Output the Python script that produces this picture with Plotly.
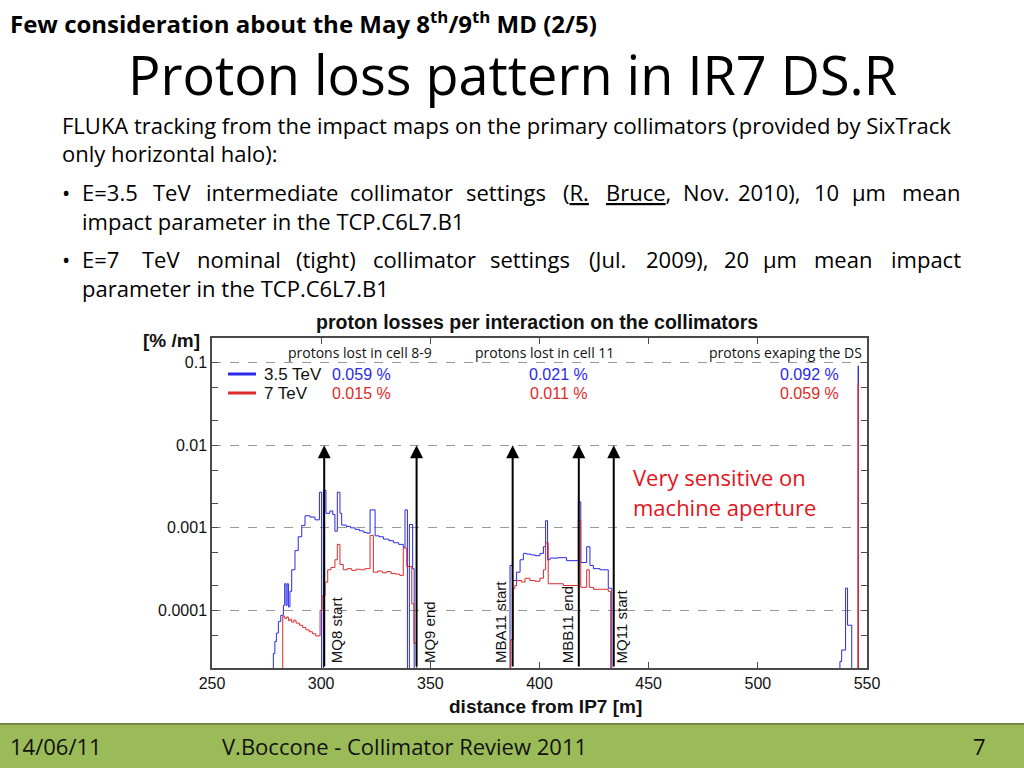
import math
import plotly.graph_objects as go

# ---------------- data ----------------
# step histogram: x = start of each bin level, y = level (1e-7 = empty bin)
x_35 = [277.5, 278.1, 278.8, 279.5, 280.4, 281.5, 282.7, 283.3, 283.9, 284.4, 285.0, 285.7,
        286.5, 288.0, 289.5, 291.1, 292.6, 294.9, 297.2, 299.2, 300.2, 301.0, 302.2, 304.0,
        305.3, 306.3, 307.4, 308.6, 309.4, 311.5, 313.5, 315.5, 317.5, 319.5, 321.0, 322.4,
        324.7, 326.5, 328.5, 331.0, 333.1, 335.5, 337.6, 338.4, 339.5, 340.4, 341.9, 342.6,
        386.5, 387.6, 389.5, 391.1, 392.6, 394.1, 396.0, 397.9, 400.2, 401.8, 402.8, 403.7,
        404.8, 408.5, 412.4, 417.8, 418.9, 421.6, 423.1, 424.7, 427.7, 431.5, 433.1,
        537.6, 538.4, 540.2, 541.1, 543.0,
        545.95, 546.05, 550.0]
y_35 = [1e-7, 3.0e-5, 4.2e-5, 5.3e-5, 7.3e-5, 8.7e-5, 1.15e-4, 2.1e-4, 1.15e-4, 2.1e-4, 1.1e-4, 1.7e-4,
        3.1e-4, 5.3e-4, 7.8e-4, 1.07e-3, 1.4e-3, 1.35e-3, 1.25e-3, 2.7e-3, 1e-7, 2.85e-3, 1.5e-3, 1.6e-3,
        1.45e-3, 9.1e-4, 2.7e-3, 1.5e-3, 1.08e-3, 1.04e-3, 1.0e-3, 9.6e-4, 9.2e-4, 8.8e-4, 8.6e-4, 1.65e-3,
        8.0e-4, 7.8e-4, 7.3e-4, 7.0e-4, 6.6e-4, 6.3e-4, 5.8e-4, 1.65e-3, 1e-7, 1.1e-3, 3.2e-4, 1e-7,
        3.5e-4, 2.3e-4, 2.9e-4, 4.1e-4, 4.9e-4, 4.8e-4, 4.7e-4, 4.6e-4, 4.9e-4, 5.9e-4, 1.22e-3, 4.1e-4,
        4.3e-4, 4.35e-4, 4.0e-4, 2.06e-3, 3.8e-4, 5.9e-4, 3.5e-4, 3.2e-4, 3.1e-4, 1.85e-4, 1e-7,
        2.4e-5, 3.3e-5, 1.86e-4, 6.6e-5, 1e-7,
        0.092, 1e-7, 1e-7]

x_7 = [281.8, 282.4, 283.3, 284.2, 285.0, 285.7, 286.5, 287.5, 288.5, 290.0, 291.5, 293.0, 294.5,
       296.0, 297.5, 299.5, 300.4, 301.8, 303.0, 304.5, 306.3, 307.4, 308.6, 310.1, 312.0, 314.0,
       316.0, 318.0, 320.0, 322.4, 323.9, 326.0, 328.0, 330.0, 332.0, 334.0, 336.0, 337.6, 339.2,
       341.5, 342.5, 343.7,
       386.8, 388.0, 388.7, 389.5, 391.8, 393.4, 395.6, 397.9, 400.2, 401.8, 402.8, 404.0, 410.9,
       417.8, 418.9, 421.6, 422.8, 424.7, 431.5, 432.6,
       545.95, 546.05, 550.0]
y_7 = [1e-7, 8.5e-5, 8.0e-5, 8.3e-5, 7.5e-5, 7.8e-5, 7.2e-5, 7.6e-5, 7.0e-5, 6.6e-5, 6.2e-5, 5.8e-5, 5.5e-5,
       5.2e-5, 4.9e-5, 1.0e-4, 1.5e-4, 2.2e-4, 3.1e-4, 3.3e-4, 4.1e-4, 6.3e-4, 3.6e-4, 3.1e-4, 3.2e-4, 3.05e-4,
       3.15e-4, 3.1e-4, 3.2e-4, 8.1e-4, 2.9e-4, 3.0e-4, 2.85e-4, 2.95e-4, 2.8e-4, 2.75e-4, 2.65e-4, 5.7e-4, 3.4e-4,
       1.2e-4, 4.0e-5, 1e-7,
       4.4e-5, 1.85e-4, 2.0e-4, 2.3e-4, 2.2e-4, 2.45e-4, 2.3e-4, 2.25e-4, 2.45e-4, 3.1e-4, 6.6e-4, 2.1e-4, 2.0e-4,
       1.23e-3, 1.9e-4, 3.1e-4, 1.9e-4, 1.8e-4, 1.7e-4, 1e-7,
       0.056, 1e-7, 1e-7]

series_names = ["3.5 TeV", "7 TeV"]
marker_pos = [301.4, 343.7, 387.7, 418.0, 434.0]
marker_labels = ["MQ8 start", "MQ9 end", "MBA11 start", "MBB11 end", "MQ11 start"]
marker_top = 0.01

region_centers = [317.8, 402.5]
region_titles = ["protons lost in cell 8-9", "protons lost in cell 11"]
ds_title = "protons exaping the DS"
value_pos = [318.6, 408.8, 523.6]
values_35 = ["0.059 %", "0.021 %", "0.092 %"]
values_7 = ["0.015 %", "0.011 %", "0.059 %"]

x_ticks = [250, 300, 350, 400, 450, 500, 550]
y_ticks = [1e-4, 1e-3, 1e-2, 1e-1]
y_ticktext = ["0.0001", "0.001", "0.01", "0.1"]
y_minor = [2e-5, 5e-5, 2e-4, 5e-4, 2e-3, 5e-3, 2e-2, 5e-2, 2e-1]

# ---------------- style ----------------
BLUE = "#2929E6"
RED = "#DD2A2A"
AX = "#4a4a4a"
CF = "Liberation Sans, Arial, sans-serif"
SF = "Open Sans, Lato, sans-serif"

W, H = 1024, 768
L, R, T, B = 212, 157, 338, 100
PW, PH = W - L - R, H - T - B


def px(x):
    return (x - L) / PW


def py(y):
    return (H - B - y) / PH


fig = go.Figure()
fig.add_trace(go.Scatter(x=x_35, y=y_35, mode="lines", name=series_names[0],
                         line=dict(color=BLUE, width=1, shape="hv"),
                         showlegend=False, hoverinfo="skip"))
fig.add_trace(go.Scatter(x=x_7, y=y_7, mode="lines", name=series_names[1],
                         line=dict(color=RED, width=1, shape="hv"),
                         showlegend=False, hoverinfo="skip"))

ann = []
shapes = []
ymin_log = math.log10(2e-5)
for xp, lab, off in zip(marker_pos, marker_labels, [12.5, 12.5, -12.7, -11, 7.7]):
    ann.append(dict(x=xp, y=math.log10(marker_top), xref="x", yref="y",
                    ax=xp, ay=ymin_log, axref="x", ayref="y", text="",
                    showarrow=True, arrowhead=2, arrowsize=1.3, arrowwidth=2,
                    arrowcolor="black", standoff=0, startstandoff=0))
    ann.append(dict(x=xp, y=0, xref="x", yref="paper", text=lab, textangle=-90,
                    xanchor="center", yanchor="bottom", xshift=off, yshift=3,
                    showarrow=False, font=dict(family=CF, size=15, color="#111")))

for xc, t in zip(region_centers, region_titles):
    ann.append(dict(x=xc, y=py(352), xref="x", yref="paper", text=t, showarrow=False,
                    xanchor="center", yanchor="middle", font=dict(family=SF, size=14, color="#111")))
ann.append(dict(x=px(864), y=py(352), xref="paper", yref="paper", text=ds_title, showarrow=False,
                xanchor="right", yanchor="middle", font=dict(family=SF, size=14, color="#111")))
for xv, v1, v2 in zip(value_pos, values_35, values_7):
    ann.append(dict(x=xv, y=py(374), xref="x", yref="paper", text=v1, showarrow=False,
                    xanchor="center", yanchor="middle", font=dict(family=CF, size=16, color=BLUE)))
    ann.append(dict(x=xv, y=py(393), xref="x", yref="paper", text=v2, showarrow=False,
                    xanchor="center", yanchor="middle", font=dict(family=CF, size=16, color=RED)))

# manual legend
for nm, col, yy in zip(series_names, [BLUE, RED], [374, 393]):
    shapes.append(dict(type="line", xref="paper", yref="paper", x0=px(228), x1=px(256),
                       y0=py(yy), y1=py(yy), line=dict(color=col, width=3)))
    ann.append(dict(x=px(262), y=py(yy), xref="paper", yref="paper", text=nm, showarrow=False,
                    xanchor="left", yanchor="middle", font=dict(family=CF, size=17, color="#111")))

# chart titles
ann.append(dict(x=px(537), y=py(322), xref="paper", yref="paper", showarrow=False,
                text="<b>proton losses per interaction on the collimators</b>",
                xanchor="center", yanchor="middle", font=dict(family=CF, size=19.5, color="#111")))
ann.append(dict(x=px(171), y=py(340), xref="paper", yref="paper", showarrow=False,
                text="<b>[% /m]</b>", xanchor="center", yanchor="middle",
                font=dict(family=CF, size=19, color="#111")))
ann.append(dict(x=px(545), y=py(706), xref="paper", yref="paper", showarrow=False,
                text="<b>distance from IP7 [m]</b>", xanchor="center", yanchor="middle",
                font=dict(family=CF, size=19, color="#111")))

# red comment
for yy, t in [(477, "Very sensitive on"), (507, "machine aperture")]:
    ann.append(dict(x=px(631), y=py(yy), xref="paper", yref="paper", text=t, showarrow=False,
                    xanchor="left", yanchor="middle", font=dict(family=SF, size=22, color="#E3141E")))

# slide texts
ann.append(dict(x=px(8), y=py(22), xref="paper", yref="paper", showarrow=False,
                text="<b>Few consideration about the May 8<sup>th</sup>/9<sup>th</sup> MD (2/5)</b>",
                xanchor="left", yanchor="middle", font=dict(family=SF, size=24, color="black")))
ann.append(dict(x=px(512), y=py(74), xref="paper", yref="paper", showarrow=False,
                text="Proton loss pattern in IR7 DS.R", xanchor="center", yanchor="middle",
                font=dict(family=SF, size=54, color="black")))

BS = 22
body = [(60, 125, "FLUKA tracking from the impact maps on the primary collimators (provided by SixTrack"),
        (60, 153, "only horizontal halo):"),
        (80, 221, "impact parameter in the TCP.C6L7.B1"),
        (80, 288, "parameter in the TCP.C6L7.B1")]
for xx, yy, t in body:
    ann.append(dict(x=px(xx), y=py(yy), xref="paper", yref="paper", text=t, showarrow=False,
                    xanchor="left", yanchor="middle", font=dict(family=SF, size=BS, color="black")))

# justified lines: word start positions (page px)
line3 = [(80, "E=3.5"), (151, "TeV"), (204, "intermediate"), (348, "collimator"), (464, "settings"),
         (561, "(<u>R.</u>"), (604, "<u>Bruce</u>,"), (681, "Nov."), (736, "2010),"), (812, "10"),
         (850, "µm"), (900, "mean")]
line5 = [(80, "E=7"), (140, "TeV"), (195, "nominal"), (294, "(tight)"), (371, "collimator"),
         (488, "settings"), (587, "(Jul."), (644, "2009),"), (722, "20"), (761, "µm"),
         (812, "mean"), (889, "impact")]
for yy, words in [(192, line3), (259, line5)]:
    ann.append(dict(x=px(60), y=py(yy), xref="paper", yref="paper", text="•", showarrow=False,
                    xanchor="left", yanchor="middle", font=dict(family=SF, size=BS, color="black")))
    for xx, w in words:
        ann.append(dict(x=px(xx), y=py(yy), xref="paper", yref="paper", text=w, showarrow=False,
                        xanchor="left", yanchor="middle", font=dict(family=SF, size=BS, color="black")))

# footer
for xx, t, anc in [(8, "14/06/11", "left"), (220, "V.Boccone - Collimator Review 2011", "left"),
                   (988, "7", "right")]:
    ann.append(dict(x=px(xx), y=py(746), xref="paper", yref="paper", text=t, showarrow=False,
                    xanchor=anc, yanchor="middle", font=dict(family=SF, size=22, color="#111")))

shapes.append(dict(type="rect", xref="paper", yref="paper", x0=px(-2), x1=px(1026), y0=py(770),
                   y1=py(724), fillcolor="#9BBB59", line=dict(color="#71893F", width=2), layer="below"))

fig.update_layout(
    width=W, height=H, margin=dict(l=L, r=R, t=T, b=B),
    paper_bgcolor="white", plot_bgcolor="white", showlegend=False,
    annotations=ann, shapes=shapes,
    xaxis=dict(range=[250, 550], tickvals=x_ticks, ticks="inside", ticklen=6, tickcolor=AX,
               showline=True, linecolor=AX, linewidth=1.5, mirror="ticks", showgrid=False,
               zeroline=False, tickfont=dict(family=CF, size=16, color="#111")),
    yaxis=dict(type="log", range=[math.log10(2e-5), math.log10(0.2)], tickvals=y_ticks,
               ticktext=y_ticktext, ticks="inside", ticklen=6, tickcolor=AX,
               showline=True, linecolor=AX, linewidth=1.5, mirror="ticks",
               showgrid=True, gridcolor="#9a9a9a", griddash="dash", gridwidth=1,
               zeroline=False, tickfont=dict(family=CF, size=16, color="#111"),
               minor=dict(tickvals=y_minor, ticks="inside", ticklen=6, tickcolor=AX, showgrid=False)),
)

fig.write_html("out.html", config={"displayModeBar": False},
               post_script="document.body.style.margin='0px';document.body.style.padding='0px';")
